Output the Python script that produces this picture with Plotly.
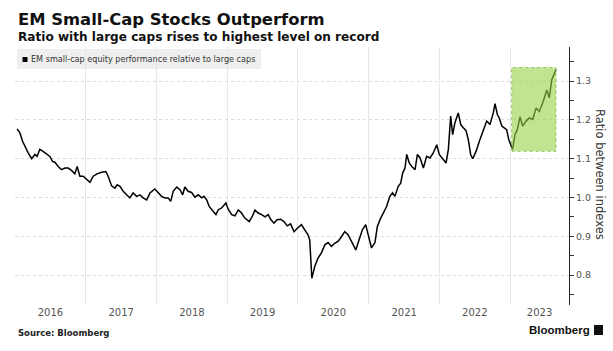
import plotly.graph_objects as go
import pandas as pd

# ---------------- data ----------------
dates = [
    "2016-01-12", "2016-01-26", "2016-02-09", "2016-02-21", "2016-03-09", "2016-03-27",
    "2016-04-13", "2016-04-24", "2016-05-08", "2016-05-25", "2016-06-12", "2016-06-29",
    "2016-07-13", "2016-07-25", "2016-08-11", "2016-08-28", "2016-09-15", "2016-10-02",
    "2016-10-19", "2016-11-05", "2016-11-17", "2016-12-01", "2016-12-18", "2017-01-05",
    "2017-01-22", "2017-02-08", "2017-02-28", "2017-03-23", "2017-04-14", "2017-04-26",
    "2017-05-14", "2017-05-31", "2017-06-12", "2017-06-26", "2017-07-13", "2017-07-30",
    "2017-08-16", "2017-09-02", "2017-09-20", "2017-10-07", "2017-10-24", "2017-11-11",
    "2017-11-28", "2017-12-23", "2018-01-10", "2018-01-27", "2018-02-13", "2018-03-02",
    "2018-03-15", "2018-03-28", "2018-04-15", "2018-05-02", "2018-05-16", "2018-05-27",
    "2018-06-13", "2018-07-01", "2018-07-18", "2018-08-04", "2018-08-22", "2018-09-03",
    "2018-09-17", "2018-09-30", "2018-10-21", "2018-11-04", "2018-11-15", "2018-12-03",
    "2018-12-25", "2019-01-06", "2019-01-24", "2019-02-10", "2019-02-27", "2019-03-16",
    "2019-04-02", "2019-04-25", "2019-05-12", "2019-05-24", "2019-06-10", "2019-06-28",
    "2019-07-15", "2019-08-01", "2019-08-13", "2019-08-30", "2019-09-16", "2019-10-04",
    "2019-10-21", "2019-11-07", "2019-11-24", "2019-12-12", "2019-12-29", "2020-01-19",
    "2020-02-05", "2020-02-22", "2020-03-02", "2020-03-13", "2020-03-28", "2020-04-14",
    "2020-05-02", "2020-05-19", "2020-06-05", "2020-06-22", "2020-07-09", "2020-07-26",
    "2020-08-13", "2020-08-30", "2020-09-16", "2020-10-04", "2020-10-26", "2020-11-12",
    "2020-11-29", "2020-12-16", "2020-12-28", "2021-01-15", "2021-02-02", "2021-02-14",
    "2021-02-28", "2021-03-17", "2021-04-03", "2021-04-20", "2021-05-04", "2021-05-16",
    "2021-06-02", "2021-06-15", "2021-06-25", "2021-07-07", "2021-07-16", "2021-07-29",
    "2021-08-11", "2021-08-28", "2021-09-09", "2021-09-23", "2021-10-10", "2021-10-27",
    "2021-11-13", "2021-11-30", "2021-12-18", "2021-12-31", "2022-01-18", "2022-02-04",
    "2022-02-16", "2022-02-28", "2022-03-10", "2022-03-22", "2022-04-08", "2022-04-21",
    "2022-05-04", "2022-05-18", "2022-05-30", "2022-06-11", "2022-06-22", "2022-07-09",
    "2022-07-26", "2022-08-16", "2022-09-02", "2022-09-19", "2022-10-06", "2022-10-15",
    "2022-10-27", "2022-11-06", "2022-11-19", "2022-11-30", "2022-12-14", "2022-12-25",
    "2023-01-04", "2023-01-14", "2023-01-26", "2023-02-07", "2023-02-21", "2023-03-07",
    "2023-03-24", "2023-04-10", "2023-04-28", "2023-05-15", "2023-06-01", "2023-06-21",
    "2023-07-09", "2023-07-22", "2023-08-04", "2023-08-16", "2023-08-26",
]
ratio = [
    1.177, 1.167, 1.145, 1.132, 1.115, 1.100,
    1.111, 1.106, 1.124, 1.119, 1.111, 1.106,
    1.093, 1.091, 1.080, 1.072, 1.076, 1.076,
    1.070, 1.061, 1.080, 1.055, 1.055, 1.048,
    1.039, 1.055, 1.061, 1.065, 1.067, 1.055,
    1.030, 1.024, 1.033, 1.029, 1.016, 1.007,
    0.999, 1.012, 1.003, 1.007, 0.999, 0.994,
    1.012, 1.022, 1.013, 1.003, 0.999, 0.999,
    0.990, 1.016, 1.027, 1.020, 1.007, 1.027,
    1.016, 1.013, 1.001, 1.007, 0.999, 1.003,
    0.994, 0.977, 0.964, 0.956, 0.968, 0.973,
    0.986, 0.970, 0.956, 0.953, 0.968, 0.960,
    0.947, 0.938, 0.953, 0.968, 0.960, 0.956,
    0.950, 0.956, 0.944, 0.934, 0.943, 0.944,
    0.938, 0.927, 0.932, 0.912, 0.921, 0.930,
    0.917, 0.904, 0.891, 0.792, 0.822, 0.844,
    0.858, 0.878, 0.884, 0.874, 0.882, 0.887,
    0.899, 0.912, 0.904, 0.887, 0.865, 0.891,
    0.917, 0.930, 0.908, 0.870, 0.884, 0.925,
    0.943, 0.960, 0.977, 1.003, 1.012, 1.003,
    1.029, 1.037, 1.063, 1.076, 1.111, 1.089,
    1.080, 1.072, 1.111, 1.102, 1.076, 1.106,
    1.102, 1.115, 1.136, 1.111, 1.098, 1.089,
    1.124, 1.210, 1.162, 1.193, 1.218, 1.188,
    1.180, 1.173, 1.149, 1.111, 1.100, 1.119,
    1.145, 1.171, 1.197, 1.188, 1.218, 1.242,
    1.214, 1.205, 1.184, 1.180, 1.175, 1.149,
    1.136, 1.124, 1.162, 1.175, 1.208, 1.184,
    1.197, 1.205, 1.201, 1.231, 1.222, 1.248,
    1.277, 1.257, 1.304, 1.317, 1.330,
]

y_tick_values = [0.8, 0.9, 1.0, 1.1, 1.2, 1.3]
year_labels = ["2016", "2017", "2018", "2019", "2020", "2021", "2022", "2023"]

highlight_start = "2023-01-09"
highlight_end = "2023-08-26"
highlight_low = 1.119
highlight_high = 1.335

title_text = "EM Small-Cap Stocks Outperform"
subtitle_text = "Ratio with large caps rises to highest level on record"
legend_text = "EM small-cap equity performance relative to large caps"
y_title_text = "Ratio between indexes"
source_text = "Source: Bloomberg"
brand_text = "Bloomberg"

x_range = ["2016-01-01", "2023-11-01"]
y_range = [0.723, 1.388]

# ---------------- layout helpers ----------------
W, H = 613, 351
ML, MR, MT, MB = 15, 44, 47, 46
PW, PH = W - ML - MR, H - MT - MB


def px(x):
    return (x - ML) / PW


def py(y):
    return (H - MB - y) / PH


FONT = "DejaVu Sans"

# year label positions: centred in the visible part of each year
r0, r1 = pd.Timestamp(x_range[0]), pd.Timestamp(x_range[1])
label_pos = []
for yl in year_labels:
    a = max(pd.Timestamp(f"{yl}-01-01"), r0)
    b = min(pd.Timestamp(f"{int(yl) + 1}-01-01"), r1)
    label_pos.append(a + (b - a) / 2)

fig = go.Figure()
fig.add_trace(go.Scatter(
    x=pd.to_datetime(dates), y=ratio, mode="lines",
    line=dict(color="#000000", width=1.5), showlegend=False,
    hoverinfo="skip",
))

fig.update_layout(
    width=W, height=H,
    margin=dict(l=ML, r=MR, t=MT, b=MB, pad=0),
    paper_bgcolor="white", plot_bgcolor="white",
    font=dict(family=FONT, color="#333333"),
    showlegend=False,
)

fig.update_xaxes(
    type="date", range=x_range,
    tickvals=label_pos, ticktext=year_labels,
    ticks="", showgrid=False, showline=False, zeroline=False,
    tickfont=dict(family=FONT, size=10, color="#555555"),
    minor=dict(dtick="M12", tick0="2016-01-01", showgrid=True,
               gridcolor="#e8e8e8", gridwidth=1, ticks=""),
)

fig.update_yaxes(
    side="right", range=y_range,
    tickvals=y_tick_values, ticktext=[f"{v:.1f}" for v in y_tick_values],
    ticks="outside", ticklen=4, tickcolor="#333333", tickwidth=1,
    showline=True, linecolor="#222222", linewidth=1,
    showgrid=True, gridcolor="#dcdcdc", griddash="dot", gridwidth=1,
    zeroline=False,
    tickfont=dict(family=FONT, size=9.5, color="#555555"),
    minor=dict(dtick=0.05, tick0=0.8, ticks="outside", ticklen=4,
               tickcolor="#333333", showgrid=False),
)

shapes = []
# highlight box
shapes.append(dict(
    type="rect", xref="x", yref="y",
    x0=highlight_start, x1=highlight_end, y0=highlight_low, y1=highlight_high,
    fillcolor="rgba(150,210,70,0.6)",
    line=dict(color="rgba(120,180,60,0.7)", width=1, dash="dot"),
    layer="above",
))
# legend background
shapes.append(dict(
    type="rect", xref="paper", yref="paper",
    x0=px(17), x1=px(261), y0=py(69), y1=py(49),
    fillcolor="#efefef", line=dict(width=0), layer="below",
))
# legend swatch
shapes.append(dict(
    type="rect", xref="paper", yref="paper",
    x0=px(22.5), x1=px(27.5), y0=py(62), y1=py(57),
    fillcolor="#000000", line=dict(width=0), layer="above",
))
# brand icon
shapes.append(dict(
    type="rect", xref="paper", yref="paper",
    x0=px(594), x1=px(603), y0=py(335), y1=py(325),
    fillcolor="#111111", line=dict(width=0), layer="above",
))

annotations = [
    dict(text=f"<b>{title_text}</b>", x=px(16), y=py(19), xref="paper", yref="paper",
         xanchor="left", yanchor="middle", showarrow=False,
         font=dict(family=FONT, size=16.4, color="#111111")),
    dict(text=f"<b>{subtitle_text}</b>", x=px(16), y=py(37.5), xref="paper", yref="paper",
         xanchor="left", yanchor="middle", showarrow=False,
         font=dict(family=FONT, size=12.1, color="#111111")),
    dict(text=legend_text, x=px(28.5), y=py(59.5), xref="paper", yref="paper",
         xanchor="left", yanchor="middle", showarrow=False,
         font=dict(family=FONT, size=8.1, color="#333333")),
    dict(text=y_title_text, x=px(600), y=py(174), xref="paper", yref="paper",
         xanchor="center", yanchor="middle", showarrow=False, textangle=90,
         font=dict(family=FONT, size=11.5, color="#333333")),
    dict(text=f"<b>{source_text}</b>", x=px(16), y=py(333), xref="paper", yref="paper",
         xanchor="left", yanchor="middle", showarrow=False,
         font=dict(family=FONT, size=8.5, color="#222222")),
    dict(text=f"<b>{brand_text}</b>", x=px(592), y=py(330), xref="paper", yref="paper",
         xanchor="right", yanchor="middle", showarrow=False,
         font=dict(family="Liberation Sans", size=11.5, color="#111111")),
]

fig.update_layout(shapes=shapes, annotations=annotations)

fig.write_html("out.html")
